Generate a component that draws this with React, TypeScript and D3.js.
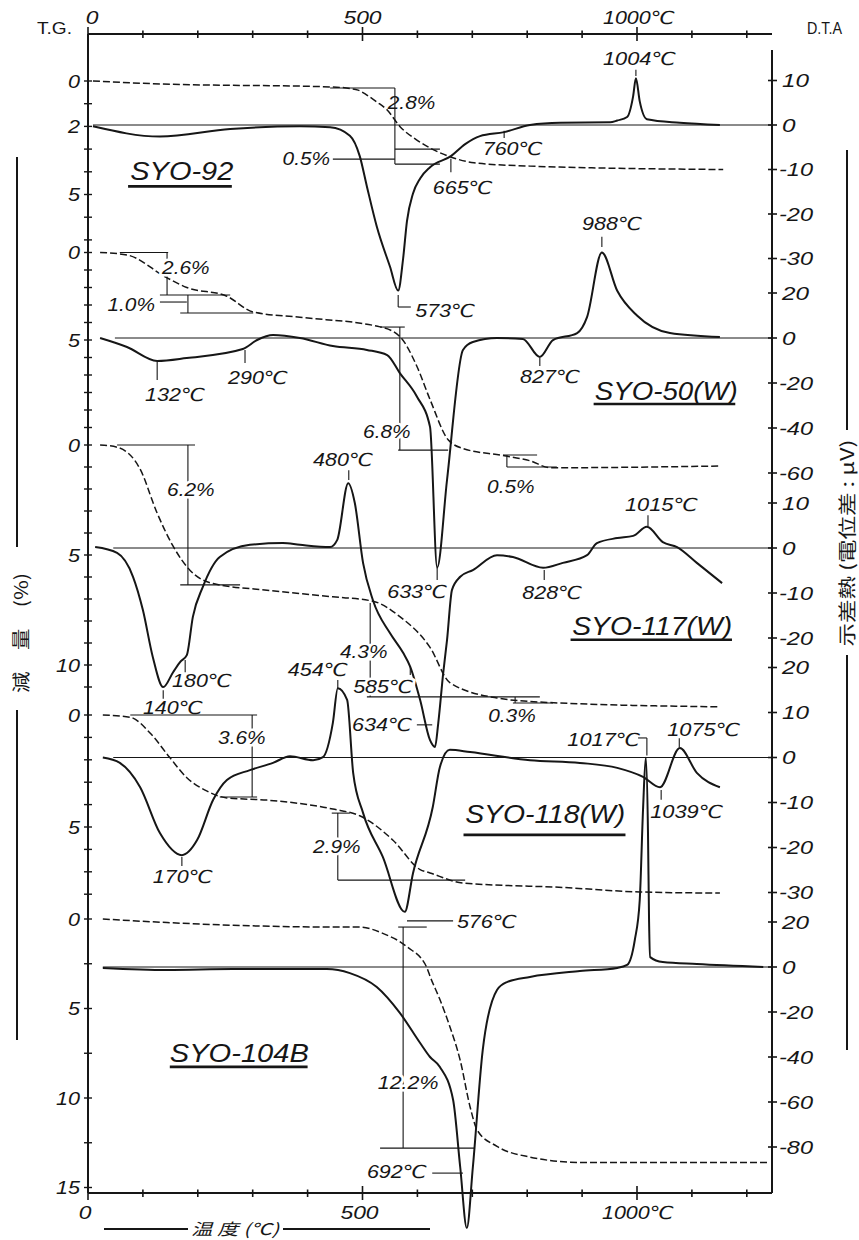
import React from "react";
import * as d3 from "d3";

type Pt = [number, number];
type Seg = [number, number, number, number];
type Lbl = { s: string; t: number; v: number; a?: "start" | "end"; halo?: boolean };

// ---------- temperature axis ----------
const tempTicks = d3.range(0, 1201, 100);
const tempLabels: { v: number; s: string }[] = [
  { v: 0, s: "0" },
  { v: 500, s: "500" },
  { v: 1000, s: "1000℃" },
];

// ---------- SYO-92 ----------
const tg92: Pt[] = [[9,0],[131,0.13],[441,0.26],[477,0.33],[492,0.4],[508,0.62],[526,0.92],[545,1.28],[568,2.0],[599,2.6],[623,2.95],[661,3.35],[703,3.6],[805,3.75],[1157,3.9]];
const dta92: Pt[] = [[9,-0.3],[131,-2.6],[259,-0.9],[386,-0.3],[441,-0.5],[477,-2.4],[495,-7],[508,-13.8],[526,-22.8],[550,-31.8],[565,-37.2],[574,-30],[581,-21.6],[592,-15.4],[605,-12],[623,-9.5],[661,-7],[687,-4.3],[714,-2.5],[758,-1.6],[805,0],[860,0.5],[951,0.6],[964,1],[982,1.8],[993,6.5],[998,10.5],[1005,5.3],[1018,1.3],[1078,0.5],[1151,0]];

// ---------- SYO-50(W) ----------
const tg50: Pt[] = [[22,0],[71,0.14],[144,1.45],[180,2.0],[253,2.5],[301,3.4],[386,3.7],[532,4.25],[568,4.8],[599,6.5],[623,8.4],[656,10.7],[683,11.2],[756,11.6],[805,11.9],[842,12.3],[1151,12.2]];
const dta50: Pt[] = [[22,0],[71,-4],[126,-10.2],[180,-8.9],[282,-4.9],[308,-0.9],[337,1.3],[386,0],[446,-3.6],[508,-5.3],[545,-7.6],[568,-15.6],[599,-26],[623,-39.5],[636,-102],[654,-63],[683,-5.3],[701,-1.8],[745,0],[792,-0.4],[823,-8.4],[847,-0.9],[891,2.2],[909,9.3],[936,38],[964,21],[1000,10],[1060,2.2],[1151,0.4]];

// ---------- SYO-117(W) ----------
const tg117: Pt[] = [[22,0],[53,0.1],[95,1.1],[126,3.1],[155,4.6],[186,5.7],[228,6.3],[326,6.6],[446,6.9],[519,7.1],[568,7.8],[623,9.2],[659,10.8],[745,11.5],[836,11.7],[1151,11.9]];
const dta117: Pt[] = [[13,0.2],[53,-1.1],[82,-6.4],[100,-13.8],[118,-24.2],[137,-30.9],[155,-27.6],[168,-25.3],[180,-23.8],[191,-15.3],[209,-8.7],[240,-2],[295,0.7],[355,1.1],[386,0.7],[441,0.2],[454,1.8],[474,14.4],[486,10],[501,-3.3],[519,-11.6],[550,-18.9],[574,-23.3],[587,-26.4],[605,-33.8],[623,-42.7],[632,-44.2],[638,-38.9],[647,-27.8],[654,-20.4],[663,-9.3],[678,-6.4],[701,-4.9],[745,-1.6],[774,-2],[829,-4.4],[865,-3.3],[909,-1.6],[927,1.1],[964,2.2],[993,2.7],[1018,4.7],[1047,1.3],[1073,0.2],[1109,-3.3],[1155,-7.8]];

// ---------- SYO-118(W) ----------
const tg118: Pt[] = [[27,0],[77,0.1],[113,0.8],[149,1.9],[180,2.8],[217,3.4],[253,3.7],[326,3.8],[446,4.2],[495,4.5],[556,5.6],[605,6.9],[623,7.05],[683,7.5],[865,7.7],[1005,7.9],[1151,7.95]];
const dta118: Pt[] = [[27,0],[58,-1.2],[95,-6.6],[131,-16.8],[171,-21.7],[199,-18.3],[228,-9.4],[253,-5],[295,-2.8],[337,-1.2],[368,0.3],[410,-0.6],[428,0.1],[446,7.7],[455,15.4],[472,12.8],[483,-3.4],[501,-12.3],[537,-22.1],[577,-34.3],[592,-25.7],[628,-11],[641,-2.1],[659,1.7],[696,1.2],[805,-0.6],[896,-1.2],[964,-2.3],[1011,-4.3],[1042,-6.6],[1078,2.1],[1109,-3.4],[1151,-6.6]];

// ---------- SYO-104B ----------
const tg104: Pt[] = [[27,0],[144,0.2],[264,0.35],[446,0.45],[495,0.45],[537,0.8],[581,1.55],[617,2.7],[623,3.2],[641,4.5],[659,6.0],[678,7.9],[696,10.5],[709,11.8],[745,12.7],[805,13.3],[896,13.6],[1242,13.6]];
const dta104: Pt[] = [[27,-0.4],[144,-1.3],[264,-0.9],[435,-0.9],[477,-2.7],[526,-8.9],[568,-20.4],[605,-33.8],[623,-40],[641,-44.4],[665,-59],[678,-89],[690,-116],[701,-89],[719,-36.9],[745,-10.2],[763,-6.7],[805,-4.4],[896,-1.8],[964,-0.4],[982,0.9],[996,12],[1005,29.8],[1011,70],[1016,93],[1020,60],[1022,20],[1024,4.4],[1047,2.2],[1109,1.3],[1230,0]];

// ---------- axis ticks per panel ----------
const tgTicks92 = d3.range(0, 8, 1);
const tgLabels92 = [0, 2, 5];
const dtaTicks92 = [10, 0, -10, -20, -30];
const tgTicks50 = d3.range(0, 11, 1);
const tgLabels50 = [0, 5];
const dtaTicks50 = [20, 0, -20, -40, -60];
const tgTicks117 = d3.range(0, 12, 1);
const tgLabels117 = [0, 5, 10];
const dtaTicks117 = [10, 0, -10, -20];
const tgTicks118 = d3.range(0, 9, 1);
const tgLabels118 = [0, 5];
const dtaTicks118 = [20, 10, 0, -10, -20, -30];
const tgTicks104 = d3.range(0, 15.1, 2.5);
const tgLabels104 = [0, 5, 10, 15];
const dtaTicks104 = [20, 0, -20, -40, -60, -80];

// ---------- annotations (T in degC, v in % or uV) ----------
const tgSegs92: Seg[] = [[441,0.31,559,0.31],[559,0.31,559,3.66],[559,3.0,641,3.0],[559,3.66,641,3.66],[446,3.44,559,3.44]];
const tgTexts92: Lbl[] = [{ s: "2.8%", t: 546, v: 1.23 }, { s: "0.5%", t: 441, v: 3.7, a: "end" }];
const dtaSegs92: Seg[] = [[565,-38.2,565,-40.9],[565,-40.9,588,-40.9],[661,-7.6,661,-10.6],[758,-1.3,758,-2.9],[998,12.4,998,11]];
const dtaTexts92: Lbl[] = [{ s: "573℃", t: 596, v: -43.1 },{ s: "665℃", t: 628, v: -15.5 },{ s: "760℃", t: 719, v: -6.7 },{ s: "1004℃", t: 938, v: 13.5 }];

const tgSegs50: Seg[] = [[58,0,146,0],[144,0,144,2.43],[131,2.43,259,2.43],[131,2.83,180,2.83],[182,2.43,182,3.46],[168,3.46,301,3.46],[532,4.26,577,4.26],[568,4.26,568,11.29],[565,11.29,656,11.29],[756,11.57,818,11.57],[763,11.57,763,12.26],[763,12.26,854,12.26]];
const tgTexts50: Lbl[] = [{ s: "2.6%", t: 135, v: 1.23, halo: true },{ s: "1.0%", t: 122, v: 3.34, a: "end" },{ s: "6.8%", t: 501, v: 10.6, halo: true },{ s: "0.5%", t: 727, v: 13.74 }];
const dtaSegs50: Seg[] = [[126,-10.7,126,-18.7],[286,-5.3,286,-11.1],[936,45,936,40.4],[823,-8.9,823,-12.4],[636,-102,636,-107.6]];
const dtaTexts50: Lbl[] = [{ s: "132℃", t: 104, v: -28 },{ s: "290℃", t: 255, v: -20.4 },{ s: "988℃", t: 900, v: 48 },{ s: "827℃", t: 787, v: -20 },{ s: "633℃", t: 545, v: -115.6 }];

const tgSegs117: Seg[] = [[53,0,195,0],[182,0,182,6.36],[168,6.36,277,6.36],[514,7.18,514,11.45],[508,11.45,823,11.45],[778,11.45,778,11.73],[774,11.73,847,11.73]];
const tgTexts117: Lbl[] = [{ s: "6.2%", t: 144, v: 2.32, halo: true },{ s: "4.3%", t: 459, v: 9.68, halo: true },{ s: "0.3%", t: 729, v: 12.6 }];
const dtaSegs117: Seg[] = [[475,17.3,475,15.1],[137,-31.6,137,-33.5],[177,-24.9,177,-27.6],[587,-26.2,587,-28.2],[599,-39.3,627,-39.3],[831,-4.9,831,-7.1],[1020,7.3,1020,4.9]];
const dtaTexts117: Lbl[] = [{ s: "480℃", t: 410, v: 18.2 },{ s: "140℃", t: 100, v: -36.9 },{ s: "180℃", t: 153, v: -30.9 },{ s: "585℃", t: 483, v: -32.2, halo: true },{ s: "634℃", t: 481, v: -40.7 },{ s: "828℃", t: 791, v: -11.3 },{ s: "1015℃", t: 978, v: 8.2 }];

const tgSegs118: Seg[] = [[77,0,308,0],[299,0,299,3.66],[240,3.66,308,3.66],[444,4.38,477,4.38],[455,4.38,455,7.37],[455,7.37,687,7.37]];
const tgTexts118: Lbl[] = [{ s: "3.6%", t: 237, v: 1.29, halo: true },{ s: "2.9%", t: 410, v: 6.16, halo: true }];
const dtaSegs118: Seg[] = [[455,17.2,455,15.4],[171,-22.1,171,-24.1],[581,-36.3,665,-36.3],[1077,4.3,1077,2.3],[1044,-7.2,1044,-9.4]];
const dtaTexts118: Lbl[] = [{ s: "454℃", t: 364, v: 18.1 },{ s: "170℃", t: 118, v: -27.9 },{ s: "576℃", t: 672, v: -37.9 },{ s: "1075℃", t: 1055, v: 4.8 },{ s: "1039℃", t: 1024, v: -13.4 }];

const tgSegs104: Seg[] = [[565,0.45,617,0.45],[574,0.45,574,12.8],[532,12.8,705,12.8]];
const tgTexts104: Lbl[] = [{ s: "12.2%", t: 528, v: 9.5, halo: true }];
const dtaSegs104: Seg[] = [[1002,101.8,1018,101.8],[1018,101.8,1018,94],[627,-91.6,683,-91.6]];
const dtaTexts104: Lbl[] = [{ s: "1017℃", t: 873, v: 98.2 },{ s: "692℃", t: 508, v: -93.8 }];

// sample names: [name, T, v(uV baseline), underline T1, T2, v]
const sampleNames: [string, number, number, number, number, number][] = [
  ["SYO-92", 77, -12.4, 73, 262, -13.8],
  ["SYO-50(W)", 923, -27.6, 921, 1179, -29.3],
  ["SYO-117(W)", 882, -19.3, 879, 1173, -20.4],
  ["SYO-118(W)", 687, -14.6, 684, 979, -17.2],
  ["SYO-104B", 149, -42.2, 149, 400, -44.4],
];

// layout of each panel (pixel positions of the value origins and scale factors)
const layout = [
  { tgY0: 81, tgPx: 22.7, dtaY0: 125, dtaPx: 4.45, baseFrom: 9 },
  { tgY0: 252.5, tgPx: 17.5, dtaY0: 338, dtaPx: 2.25, baseFrom: 49 },
  { tgY0: 445, tgPx: 22, dtaY0: 548, dtaPx: 4.5, baseFrom: 46 },
  { tgY0: 715, tgPx: 22.4, dtaY0: 757.5, dtaPx: 4.5, baseFrom: 46 },
  { tgY0: 919, tgPx: 17.9, dtaY0: 967, dtaPx: 2.25, baseFrom: 27 },
];

const panels = [
  { tg: tg92, dta: dta92, tgTicks: tgTicks92, tgLabels: tgLabels92, dtaTicks: dtaTicks92, tgSegs: tgSegs92, tgTexts: tgTexts92, dtaSegs: dtaSegs92, dtaTexts: dtaTexts92 },
  { tg: tg50, dta: dta50, tgTicks: tgTicks50, tgLabels: tgLabels50, dtaTicks: dtaTicks50, tgSegs: tgSegs50, tgTexts: tgTexts50, dtaSegs: dtaSegs50, dtaTexts: dtaTexts50 },
  { tg: tg117, dta: dta117, tgTicks: tgTicks117, tgLabels: tgLabels117, dtaTicks: dtaTicks117, tgSegs: tgSegs117, tgTexts: tgTexts117, dtaSegs: dtaSegs117, dtaTexts: dtaTexts117 },
  { tg: tg118, dta: dta118, tgTicks: tgTicks118, tgLabels: tgLabels118, dtaTicks: dtaTicks118, tgSegs: tgSegs118, tgTexts: tgTexts118, dtaSegs: dtaSegs118, dtaTexts: dtaTexts118 },
  { tg: tg104, dta: dta104, tgTicks: tgTicks104, tgLabels: tgLabels104, dtaTicks: dtaTicks104, tgSegs: tgSegs104, tgTexts: tgTexts104, dtaSegs: dtaSegs104, dtaTexts: dtaTexts104 },
];

const FONT = "'Liberation Sans', Arial, 'DejaVu Sans', sans-serif";
const CJK = "'Noto Sans CJK JP', 'Noto Sans CJK SC', sans-serif";
const INK = "#161616";

const CW: Record<string, number> = { ".": 5.5, "%": 16, "℃": 21, "-": 7, "(": 8, ")": 8, " ": 5 };
function estW(s: string, digit = 13) {
  let w = 0;
  for (const c of s) w += c >= "0" && c <= "9" ? digit : CW[c] ?? 14;
  return w;
}
const NW: Record<string, number> = { S: 19, Y: 19, O: 21, W: 24, B: 19, "-": 10, "(": 8, ")": 8 };
function nameW(s: string) {
  let w = 0;
  for (const c of s) w += c >= "0" && c <= "9" ? 17 : NW[c] ?? 18;
  return w;
}

function Txt(props: { x: number; y: number; s: string; size?: number; anchor?: string; w?: number; halo?: boolean }) {
  const { x, y, s, size = 18, anchor = "start", w, halo } = props;
  return (
    <text
      x={x}
      y={y}
      fontSize={size}
      fontStyle="italic"
      fontFamily={FONT}
      textAnchor={anchor}
      textLength={w ?? estW(s)}
      lengthAdjust="spacingAndGlyphs"
      fill={INK}
      stroke={halo ? "#fff" : "none"}
      strokeWidth={halo ? 5 : 0}
      style={{ paintOrder: "stroke" } as any}
    >
      {s}
    </text>
  );
}

export default function App() {
  const x = d3.scaleLinear().domain([0, 1000]).range([88, 637]);
  const xL = x(0);
  const xR = 772;
  const topY = 34;
  const botY = 1193;

  const axisTicks = (y: number) =>
    tempTicks.map((t) => {
      const major = t % 500 === 0;
      return <line key={"t" + y + "-" + t} x1={x(t)} x2={x(t)} y1={y - (major ? 7 : 3.5)} y2={y + (major ? 7 : 4)} stroke={INK} strokeWidth={1.6} />;
    });

  return (
    <svg width={859} height={1240} style={{ position: "absolute", left: 0, top: 0, background: "#fff" }}>
      <rect width={859} height={1240} fill="#fff" />
      {/* top axis */}
      <line x1={xL} x2={xR} y1={topY} y2={topY} stroke={INK} strokeWidth={2} />
      {axisTicks(topY)}
      {tempLabels.map((l) => (
        <Txt key={"tl" + l.v} x={l.v === 1000 ? x(l.v) - 34 : x(l.v) + (l.v === 0 ? 4 : 0)} y={24} s={l.s} anchor={l.v === 1000 ? "start" : "middle"} w={estW(l.s, 12.7)} />
      ))}
      <text x={37} y={34} fontSize={16} fontFamily={FONT} fill={INK} textLength={35} lengthAdjust="spacingAndGlyphs">T.G.</text>
      <text x={807} y={34} fontSize={16} fontFamily={FONT} fill={INK} textLength={35} lengthAdjust="spacingAndGlyphs">D.T.A</text>

      {/* bottom axis */}
      <line x1={xL} x2={xR} y1={botY} y2={botY} stroke={INK} strokeWidth={2} />
      {axisTicks(botY)}
      {tempLabels.map((l) => (
        <Txt key={"bl" + l.v} x={l.v === 1000 ? x(l.v) - 35 : x(l.v) - 3} y={1219} s={l.s} anchor={l.v === 1000 ? "start" : "middle"} w={estW(l.s, 12.7)} />
      ))}
      <line x1={104} x2={188} y1={1229} y2={1229} stroke={INK} strokeWidth={2} />
      <line x1={283} x2={430} y1={1229} y2={1229} stroke={INK} strokeWidth={2} />
      <text x={235} y={1235} fontSize={16} fontFamily={CJK} fill={INK} textAnchor="middle" textLength={88} lengthAdjust="spacingAndGlyphs" fontStyle="italic">温 度 (℃)</text>

      {/* vertical axes */}
      <line x1={xL} x2={xL} y1={topY} y2={botY} stroke={INK} strokeWidth={2} />
      <line x1={xR} x2={xR} y1={50} y2={botY} stroke={INK} strokeWidth={2} />

      {/* side titles */}
      <line x1={17} x2={17} y1={157} y2={547} stroke={INK} strokeWidth={2} />
      <line x1={17} x2={17} y1={710} y2={1040} stroke={INK} strokeWidth={2} />
      <text transform="translate(28,633) rotate(-90)" fontSize={18} fontFamily={CJK} fill={INK} textAnchor="middle" textLength={120} lengthAdjust="spacingAndGlyphs">減　量　(%)</text>
      <line x1={847} x2={847} y1={150} y2={430} stroke={INK} strokeWidth={2} />
      <line x1={847} x2={847} y1={655} y2={1050} stroke={INK} strokeWidth={2} />
      <text transform="translate(854,543) rotate(-90)" fontSize={18} fontFamily={CJK} fill={INK} textAnchor="middle" textLength={207} lengthAdjust="spacingAndGlyphs">示差熱 (電位差 : μV)</text>

      {panels.map((p, i) => {
        const L = layout[i];
        const yTG = d3.scaleLinear().domain([0, 1]).range([L.tgY0, L.tgY0 + L.tgPx]);
        const yD = d3.scaleLinear().domain([0, 1]).range([L.dtaY0, L.dtaY0 - L.dtaPx]);
        const tgLine = d3.line<Pt>().x((d) => x(d[0])).y((d) => yTG(d[1])).curve(d3.curveMonotoneX);
        const dtaLine = d3.line<Pt>().x((d) => x(d[0])).y((d) => yD(d[1])).curve(d3.curveMonotoneX);
        const nm = sampleNames[i];
        return (
          <g key={"p" + i}>
            {p.tgTicks.map((t) => (
              <line key={"lt" + t} x1={xL - 4} x2={xL + 4} y1={yTG(t)} y2={yTG(t)} stroke={INK} strokeWidth={1.4} />
            ))}
            {p.tgLabels.map((t) => (
              <Txt key={"ll" + t} x={80} y={yTG(t) + 6.5} s={String(t)} anchor="end" w={estW(String(t), 12)} />
            ))}
            {p.dtaTicks.map((t) => (
              <line key={"rt" + t} x1={xR - 4} x2={xR + 5} y1={yD(t)} y2={yD(t)} stroke={INK} strokeWidth={1.6} />
            ))}
            {p.dtaTicks.map((t) => (
              <Txt key={"rl" + t} x={t < 0 ? 779 : 782} y={yD(t) + 6.5} s={String(t)} w={estW(String(t), 13.5)} />
            ))}
            <line x1={x(L.baseFrom)} x2={xR} y1={yD(0)} y2={yD(0)} stroke={INK} strokeWidth={1} />
            {p.tgSegs.map((s, k) => (
              <line key={"ts" + k} x1={x(s[0])} y1={yTG(s[1])} x2={x(s[2])} y2={yTG(s[3])} stroke={INK} strokeWidth={1.1} />
            ))}
            {p.dtaSegs.map((s, k) => (
              <line key={"ds" + k} x1={x(s[0])} y1={yD(s[1])} x2={x(s[2])} y2={yD(s[3])} stroke={INK} strokeWidth={1.1} />
            ))}
            <path d={tgLine(p.tg) || ""} fill="none" stroke={INK} strokeWidth={1.5} strokeDasharray="7,3" />
            <path d={dtaLine(p.dta) || ""} fill="none" stroke={INK} strokeWidth={2} strokeLinejoin="round" />
            {p.tgTexts.map((l, k) => (
              <Txt key={"tt" + k} x={x(l.t)} y={yTG(l.v)} s={l.s} anchor={l.a ?? "start"} halo={l.halo} />
            ))}
            {p.dtaTexts.map((l, k) => (
              <Txt key={"dt" + k} x={x(l.t)} y={yD(l.v)} s={l.s} anchor={l.a ?? "start"} halo={l.halo} />
            ))}
            <Txt x={x(nm[1])} y={yD(nm[2])} s={nm[0]} size={26} w={nameW(nm[0])} />
            <line x1={x(nm[3])} x2={x(nm[4])} y1={yD(nm[5])} y2={yD(nm[5])} stroke={INK} strokeWidth={2.6} />
          </g>
        );
      })}
    </svg>
  );
}
